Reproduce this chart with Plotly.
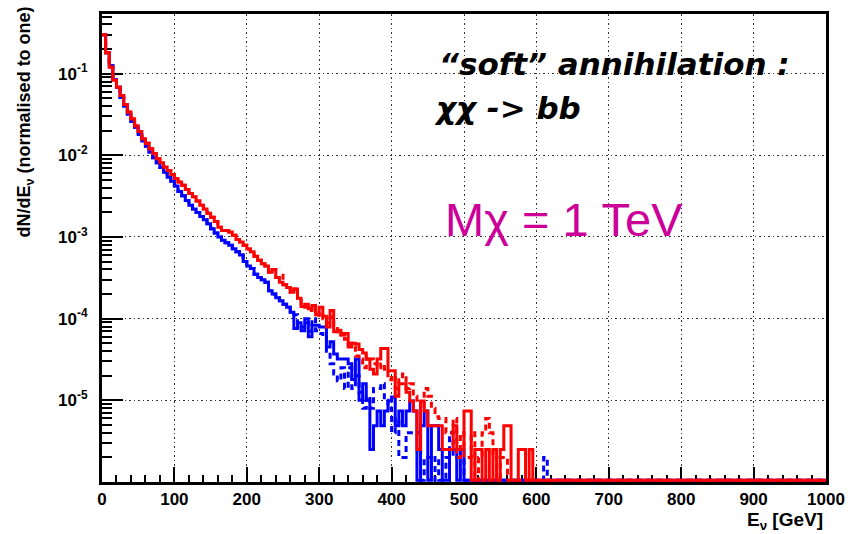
import plotly.graph_objects as go

# ---------------- data (5 GeV bins, 0 - 1000 GeV) ----------------
BIN_WIDTH = 5
N_BINS = 200
bin_edges = [BIN_WIDTH * i for i in range(N_BINS + 1)]

red_solid_read = [
    0.30, 0.18, 0.12, 0.083, 0.068, 0.054, 0.042, 0.034, 0.028, 0.023,
    0.0195, 0.016, 0.014, 0.012, 0.0105, 0.0091, 0.0081, 0.0072, 0.0065, 0.0058,
    0.0052, 0.0047, 0.0043, 0.0038, 0.0034, 0.0031, 0.00275, 0.00245, 0.0022, 0.00195,
    0.00174, 0.00155, 0.00132, 0.0012, 0.0012, 0.00115, 0.00105, 0.00093, 0.00087, 0.00079,
    0.00071, 0.00066, 0.00058, 0.00052, 0.00047, 0.00044, 0.00037, 0.00040, 0.00032, 0.00028,
    0.00026, 0.00024, 0.00021, 0.00023, 0.000178, 0.000141, 0.00015, 0.000132, 0.000145, 0.000112,
    0.000138, 0.000107, 0.000079, 0.000126, 0.000069, 0.000072, 0.000063, 0.000066, 0.000045, 0.00005,
    0.000049, 0.000042, 0.000038, 0.000032, 0.000024, 0.000021, 0.000032, 0.000043, 0.000043, 0.000023,
    0.000023, 0.0000112, 0.000016, 0.000016, 0.0000126, 0.0000098, 0.0000074, 0.0000025, 0.0000098, 0.0000074,
    0.0000049, 0.0000049, 0.0000049, 0.0000049, 0.0000025, 0.0000025, 0.0000025, 0.0000049, 0.0000025, 0.0000025,
    0.0000074, 0.0000074, 0.0, 0.0000025, 0.0000025, 0.0, 0.0000025, 0.0, 0.0000025, 0.0,
    0.0000025, 0.0000049, 0.0000049, 0.0, 0.0, 0.0000025, 0.0000025, 0.0, 0.0000025, 0.0,
]
red_solid = red_solid_read + [0.0] * (N_BINS - len(red_solid_read))

red_dashed_tail = [
    0.00015, 0.000138, 0.000126, 0.000141, 0.00011,
    0.00012, 0.0001, 0.000089, 0.000105, 0.000076, 0.000063, 0.000066, 0.000056, 0.00005, 0.000045,
    0.000035, 0.000032, 0.000025, 0.000035, 0.000032, 0.000028, 0.000025, 0.000028, 0.000024, 0.0000178,
    0.00002, 0.000014, 0.0000178, 0.000021, 0.000014, 0.000016, 0.0000112, 0.00001, 0.000008, 0.000014,
    0.0000112, 0.000008, 0.0000063, 0.000006, 0.000006, 0.000004, 0.000004, 0.000006, 0.000002, 0.000004,
    0.000002, 0.000002, 0.000004, 0.0, 0.000002, 0.000004, 0.000006, 0.000004, 0.000002, 0.0,
    0.000002, 0.000002,
]
red_dashed_read = red_solid_read[:49] + [0.00034] + red_solid_read[50:55] + red_dashed_tail
red_dashed = red_dashed_read + [0.0] * (N_BINS - len(red_dashed_read))

blue_solid_read = [
    0.30, 0.18, 0.125, 0.085, 0.068, 0.051, 0.040, 0.032, 0.026, 0.022,
    0.018, 0.015, 0.0129, 0.011, 0.0093, 0.0081, 0.0071, 0.0062, 0.0054, 0.0048,
    0.0042, 0.0036, 0.0032, 0.0028, 0.00245, 0.0022, 0.002, 0.00178, 0.00162, 0.00145,
    0.00126, 0.00112, 0.001, 0.00091, 0.00085, 0.00079, 0.00072, 0.00066, 0.0006, 0.0005,
    0.00044, 0.00041, 0.00035, 0.00032, 0.0003, 0.00028, 0.00022, 0.0002, 0.00018, 0.000166,
    0.00015, 0.000138, 0.00012, 0.000076, 0.000089, 0.000071, 0.0001, 0.00006, 0.000083, 0.000083,
    0.000079, 0.000079, 0.000045, 0.000052, 0.000037, 0.000032, 0.000032, 0.000032, 0.000028, 0.000018,
    0.000032, 0.00001, 0.000016, 0.00001, 0.0000025, 0.0000049, 0.0000074, 0.0000049, 0.0000074, 0.0000098,
    0.000011, 0.0000049, 0.0000074, 0.0000049, 0.0000074, 0.0000098, 0.0000074, 0.0, 0.0000049, 0.0000074,
    0.0, 0.0000049, 0.0000049, 0.0000025, 0.0, 0.0, 0.0000025, 0.0000025, 0.0, 0.0000025,
]
blue_solid = blue_solid_read + [0.0] * (N_BINS - len(blue_solid_read))

blue_dashed_tail = [
    0.000112, 0.000085, 0.000079, 0.000089, 0.00007, 0.0001, 0.000071,
    0.000066, 0.00006, 0.00004, 0.000028, 0.000021, 0.0000174, 0.000025, 0.000014, 0.000025, 0.000014,
    0.00002, 0.0000126, 0.000008, 0.0000112, 0.000008, 0.000014, 0.000014, 0.000016, 0.00001, 0.000008,
    0.000004, 0.000006, 0.000002, 0.000002, 0.000004, 0.000004, 0.000004, 0.000004, 0.0, 0.000002,
    0.000002, 0.0, 0.000002, 0.0, 0.0, 0.000002, 0.000004, 0.000002, 0.000002, 0.000002,
    0.0, 0.0, 0.0, 0.0, 0.0, 0.0, 0.0, 0.0, 0.0, 0.0,
    0.0, 0.0, 0.0, 0.0, 0.0, 0.0, 0.0, 0.0, 0.0, 0.0,
    0.0, 0.0, 0.000002,
]
blue_dashed_read = blue_solid_read[:53] + blue_dashed_tail
blue_dashed = blue_dashed_read + [0.0] * (N_BINS - len(blue_dashed_read))

x_tick_values = [0, 100, 200, 300, 400, 500, 600, 700, 800, 900, 1000]
x_tick_labels = ["0", "100", "200", "300", "400", "500", "600", "700", "800", "900", "1000"]
y_tick_values = [1e-5, 1e-4, 1e-3, 1e-2, 1e-1]
y_tick_labels = ["10<sup>-5</sup>", "10<sup>-4</sup>", "10<sup>-3</sup>", "10<sup>-2</sup>", "10<sup>-1</sup>"]

Y_LOG_MIN = -6.0
Y_LOG_MAX = -0.27
FLOOR = 10 ** (Y_LOG_MIN + 0.02)   # empty bins are drawn on the frame bottom (ROOT style)


def step_y(vals):
    v = [val if val > 0 else FLOOR for val in vals]
    return v + [v[-1]]


fig = go.Figure()
series = [
    (blue_solid, "#0000ff", "solid"),
    (blue_dashed, "#0000ff", "6px,4px"),
    (red_solid, "#ff0000", "solid"),
    (red_dashed, "#ff0000", "6px,4px"),
]
for vals, col, dash in series:
    fig.add_trace(go.Scatter(
        x=bin_edges, y=step_y(vals), mode="lines", line_shape="hv",
        line=dict(color=col, width=3, dash=dash), showlegend=False, hoverinfo="skip",
    ))

tickfont = dict(family="Liberation Sans, Arial", size=17, color="black", weight="bold")

x_minor = [v for v in range(20, 1000, 20) if v % 100 != 0]
y_minor = []
for d in range(-6, 0):
    for k in range(2, 10):
        val = k * 10 ** d
        if val < 10 ** Y_LOG_MAX:
            y_minor.append(val)

GRID_DASH = "1.5px,3px"
fig.update_layout(
    width=856, height=534,
    margin=dict(l=102, r=29, t=11, b=52),
    paper_bgcolor="white", plot_bgcolor="white",
    xaxis=dict(
        range=[0, 1000], showline=True, mirror=True, linewidth=3, linecolor="black",
        ticks="inside", ticklen=15, tickwidth=2, tickcolor="black",
        tickvals=x_tick_values, ticktext=x_tick_labels, tickfont=tickfont,
        showgrid=True, griddash=GRID_DASH, gridcolor="#333", gridwidth=1.3, zeroline=False,
        minor=dict(ticks="inside", ticklen=7, tickwidth=2, tickcolor="black",
                   tickvals=x_minor, showgrid=False),
        layer="below traces",
    ),
    yaxis=dict(
        type="log", range=[Y_LOG_MIN, Y_LOG_MAX], showline=True, mirror=True, linewidth=3,
        linecolor="black", ticks="inside", ticklen=21, tickwidth=2, tickcolor="black",
        tickvals=y_tick_values, ticktext=y_tick_labels, tickfont=tickfont,
        showgrid=True, griddash=GRID_DASH, gridcolor="#333", gridwidth=1.3, zeroline=False,
        minor=dict(ticks="inside", ticklen=10, tickwidth=2, tickcolor="black",
                   tickvals=y_minor, showgrid=False),
        ticklabelstandoff=8,
        layer="below traces",
    ),
)

W, L = 725, 102
H, T = 471, 11


def px(xp):
    return (xp - L) / W


def py(yp):
    return (T + H - yp) / H


anno_font = dict(family="DejaVu Sans", size=31, color="black", weight="bold", style="italic")
fig.add_annotation(text="\u201csoft\u201d annihilation :", xref="paper", yref="paper",
                   x=px(437), y=py(61), xanchor="left", yanchor="middle",
                   showarrow=False, font=anno_font)
fig.add_annotation(text="\u03c7\u03c7 -> bb", xref="paper", yref="paper",
                   x=px(432), y=py(106), xanchor="left", yanchor="middle",
                   showarrow=False, font=anno_font)
fig.add_annotation(text="M\u03c7 = 1 TeV", xref="paper", yref="paper",
                   x=px(443), y=py(218), xanchor="left", yanchor="middle",
                   showarrow=False,
                   font=dict(family="Liberation Sans, Arial", size=47, color="#cc0099"))
fig.add_annotation(text="dN/dE<sub>\u03bd</sub> (normalised to one)", xref="paper", yref="paper",
                   x=px(25), y=py(120), xanchor="center", yanchor="middle", textangle=-90,
                   showarrow=False,
                   font=dict(family="Liberation Sans, Arial", size=18, color="black", weight="bold"))
fig.add_annotation(text="E<sub>\u03bd</sub> [GeV]", xref="paper", yref="paper",
                   x=px(826), y=py(521), xanchor="right", yanchor="middle",
                   showarrow=False,
                   font=dict(family="Liberation Sans, Arial", size=19, color="black", weight="bold"))

fig.write_html("out.html")
